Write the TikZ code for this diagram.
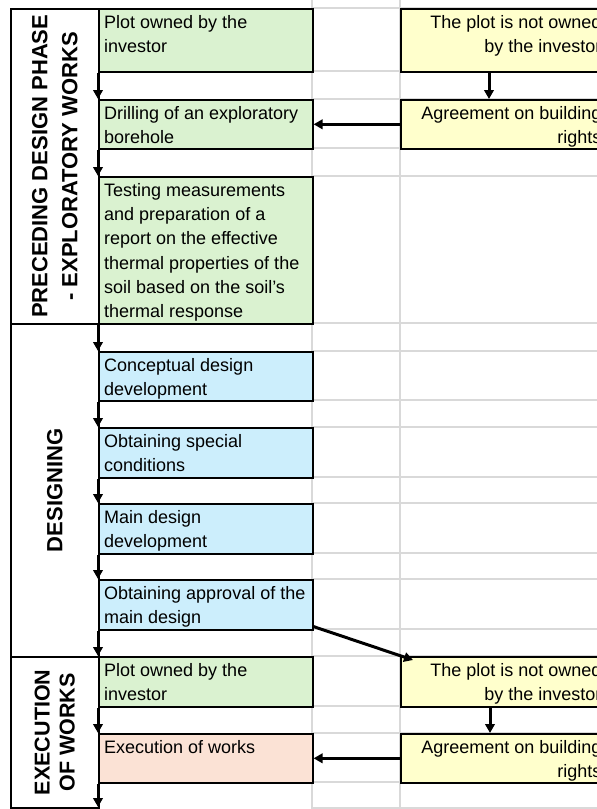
\documentclass[tikz,border=0pt]{standalone}
\usepackage{fontspec}
\setmainfont{Liberation Sans}
\usetikzlibrary{arrows.meta,positioning,calc}
\definecolor{stepgreen}{HTML}{DAF2D0}
\definecolor{stepblue}{HTML}{CCEEFC}
\definecolor{stepyellow}{HTML}{FFFFCC}
\definecolor{steppeach}{HTML}{FBE2D5}
\definecolor{gridgray}{HTML}{D9D9D9}

\begin{document}
\begin{tikzpicture}[x=1pt, y=1pt,
    cell/.style={draw, line width=1.6pt, anchor=north west, minimum width=214pt, inner sep=0pt},
    sidecell/.style={cell, fill=stepyellow, minimum width=206pt},
    phasebox/.style={draw, line width=1.6pt, anchor=north west, minimum width=88pt, inner sep=0pt},
    phaselabel/.style={rotate=90, align=center, font=\fontsize{22}{30}\bfseries\selectfont},
    txt/.style={anchor=north west, align=left, inner sep=0pt, font=\fontsize{18}{24.3}\selectfont},
    rtxt/.style={txt, anchor=north east, align=right},
    flow/.style={-{Triangle[length=9pt, width=9.5pt]}, line width=3pt},
    gridline/.style={gridgray, line width=1.2pt}
]
\useasboundingbox (0,0) rectangle (597,-809);
\clip (0,0) rectangle (597,-809);

% Sheet grid
\foreach \y in {8,71,99,148,176,323,351,400,427,477,503,553,579,629,656,706,733,782,808}
    \draw[gridline] (312,-\y) -- (597,-\y);
\draw[gridline] (312,0) -- (312,-809);
\draw[gridline] (400,0) -- (400,-809);

% Phases
\node[phasebox, minimum height=315pt] (prephase) at (10,-8) {};
\node[phaselabel] at (prephase.center) {PRECEDING DESIGN PHASE\\- EXPLORATORY WORKS};
\node[phasebox, minimum height=333pt] (designphase) at (10,-323) {};
\node[phaselabel] at (designphase.center) {DESIGNING};
\node[phasebox, minimum height=151pt] (execphase) at (10,-656) {};
\node[phaselabel, font=\fontsize{21.5}{25}\bfseries\selectfont] at (execphase.center) {EXECUTION\\OF WORKS};

% Main sequence
\node[cell, fill=stepgreen, minimum height=63pt] (plotA) at (98,-8) {};
\node[txt] at ([shift={(6,-7)}]plotA.north west) {Plot owned by the\\investor};
\node[cell, fill=stepgreen, minimum height=49pt] (drill) at (98,-99) {};
\node[txt] at ([shift={(6,-7)}]drill.north west) {Drilling of an exploratory\\borehole};
\node[cell, fill=stepgreen, minimum height=147pt] (testing) at (98,-176) {};
\node[txt] at ([shift={(6,-7)}]testing.north west) {Testing measurements\\and preparation of a\\report on the effective\\thermal properties of the\\soil based on the soil's\\thermal response};

\node[cell, fill=stepblue, minimum height=49pt] (concept) at (98,-351) {};
\node[txt] at ([shift={(6,-7)}]concept.north west) {Conceptual design\\development};
\node[cell, fill=stepblue, minimum height=50pt] (special) at (98,-427) {};
\node[txt] at ([shift={(6,-7)}]special.north west) {Obtaining special\\conditions};
\node[cell, fill=stepblue, minimum height=50pt] (maindesign) at (98,-503) {};
\node[txt] at ([shift={(6,-7)}]maindesign.north west) {Main design\\development};
\node[cell, fill=stepblue, minimum height=50pt] (approval) at (98,-579) {};
\node[txt] at ([shift={(6,-7)}]approval.north west) {Obtaining approval of the\\main design};

\node[cell, fill=stepgreen, minimum height=50pt] (plotB) at (98,-656) {};
\node[txt] at ([shift={(6,-7)}]plotB.north west) {Plot owned by the\\investor};
\node[cell, fill=steppeach, minimum height=49pt] (works) at (98,-733) {};
\node[txt] at ([shift={(6,-7)}]works.north west) {Execution of works};

% Side branch
\node[sidecell, minimum height=63pt] (notownedA) at (400,-8) {};
\node[rtxt] at ([shift={(-6,-7)}]notownedA.north east) {The plot is not owned\\by the investor};
\node[sidecell, minimum height=49pt] (rightsA) at (400,-99) {};
\node[rtxt] at ([shift={(-6,-7)}]rightsA.north east) {Agreement on building\\rights};
\node[sidecell, minimum height=50pt] (notownedB) at (400,-656) {};
\node[rtxt] at ([shift={(-6,-7)}]notownedB.north east) {The plot is not owned\\by the investor};
\node[sidecell, minimum height=49pt] (rightsB) at (400,-733) {};
\node[rtxt] at ([shift={(-6,-7)}]rightsB.north east) {Agreement on building\\rights};

% Arrows
\draw[flow] (plotA.south west) -- (drill.north west);
\draw[flow] (drill.south west) -- (testing.north west);
\draw[flow] (testing.south west) -- (concept.north west);
\draw[flow] (concept.south west) -- (special.north west);
\draw[flow] (special.south west) -- (maindesign.north west);
\draw[flow] (maindesign.south west) -- (approval.north west);
\draw[flow] (approval.south west) -- (plotB.north west);
\draw[flow] (plotB.south west) -- (works.north west);
\coordinate (flowend) at (98,-807);
\draw[flow] (works.south west) -- (flowend);

\draw[flow] ([xshift=89pt]notownedA.south west) -- ([xshift=89pt]rightsA.north west);
\draw[flow] (rightsA.west) -- (drill.east);
\draw[flow] ([yshift=4pt]approval.south east) -- ([shift={(13,-4)}]notownedB.north west);
\draw[flow] ([xshift=90pt]notownedB.south west) -- ([xshift=90pt]rightsB.north west);
\draw[flow] (rightsB.west) -- (works.east);
\end{tikzpicture}
\end{document}
